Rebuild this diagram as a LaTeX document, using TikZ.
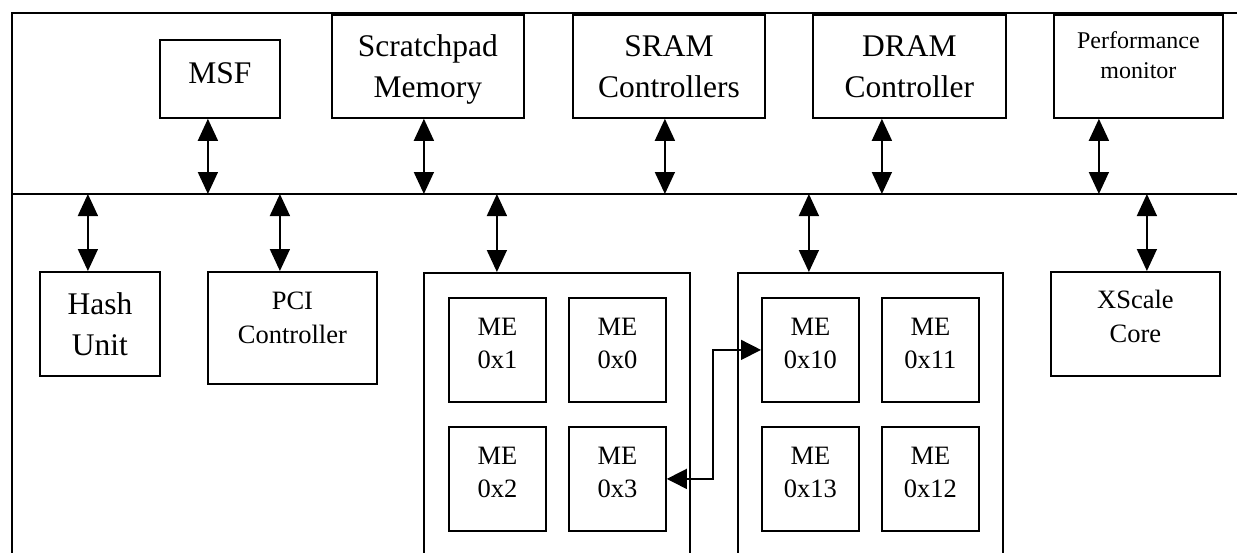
\documentclass[tikz,border=0pt]{standalone}
\usepackage{fontspec}
\setmainfont{Liberation Serif}
\usetikzlibrary{arrows.meta}
\begin{document}
\begin{tikzpicture}[x=1pt,y=-1pt,
  blk/.style={draw, line width=1.8pt, inner sep=0pt, anchor=north west},
  frameline/.style={line width=2.6pt},
  busline/.style={line width=1.8pt},
  biarrow/.style={line width=1.6pt,
    {Triangle[length=22pt,width=20pt]}-{Triangle[length=22pt,width=20pt]}},
  linkarrow/.style={line width=1.5pt,
    {Triangle[length=20pt,width=20pt]}-{Triangle[length=20pt,width=20pt]}},
  bigtxt/.style={font=\fontsize{31.5}{41}\selectfont, align=center, anchor=base, inner sep=0pt},
  midtxt/.style={font=\fontsize{26.5}{34}\selectfont, align=center, anchor=base, inner sep=0pt},
  metxt/.style={font=\fontsize{26.5}{33}\selectfont, align=center, anchor=base, inner sep=0pt},
  smalltxt/.style={font=\fontsize{24}{30}\selectfont, align=center, anchor=base, inner sep=0pt},
  mebox/.style={blk, minimum width=97, minimum height=104}
]
\useasboundingbox (0,0) rectangle (1237,552);
\clip (0,0) rectangle (1237,552);

% outer frame and internal bus
\draw[frameline] (12,560) -- (12,13) -- (1240,13);
\coordinate (busL) at (12,194);
\coordinate (busR) at (1240,194);
\draw[busline] (busL) -- (busR);

% units above the bus
\node[blk, minimum width=120, minimum height=78]  (msf)     at (159,39) {};
\node[blk, minimum width=192, minimum height=103] (scratch) at (331,14) {};
\node[blk, minimum width=192, minimum height=103] (sram)    at (572,14) {};
\node[blk, minimum width=193, minimum height=103] (dram)    at (812,14) {};
\node[blk, minimum width=169, minimum height=103] (perf)    at (1053,14) {};

% labels are placed by the baseline of their last line
\node[bigtxt]   (msfT)     at ([yshift=-44pt]msf.north)     {MSF};
\node[bigtxt]   (scratchT) at ([yshift=-83pt]scratch.north) {Scratchpad\\Memory};
\node[bigtxt]   (sramT)    at ([yshift=-83pt]sram.north)    {SRAM\\Controllers};
\node[bigtxt]   (dramT)    at ([yshift=-83pt]dram.north)    {DRAM\\Controller};
\node[smalltxt] (perfT)    at ([yshift=-64pt]perf.north)    {Performance\\monitor};

% units below the bus
\node[blk, minimum width=120, minimum height=104] (hash)   at (39,271) {};
\node[blk, minimum width=169, minimum height=112] (pci)    at (207,271) {};
\node[blk, minimum width=266, minimum height=330] (grpA)   at (423,272) {};
\node[blk, minimum width=265, minimum height=330] (grpB)   at (737,272) {};
\node[blk, minimum width=169, minimum height=104] (xscale) at (1050,271) {};

\node[bigtxt] (hashT)   at ([yshift=-84pt]hash.north)   {Hash\\Unit};
\node[midtxt] (pciT)    at ([yshift=-72pt]pci.north)    {PCI\\Controller};
\node[midtxt] (xscaleT) at ([yshift=-71pt]xscale.north) {XScale\\Core};

% microengine clusters
\node[mebox] (me1)  at (448,297) {};
\node[mebox] (me0)  at (568,297) {};
\node[mebox] (me2)  at (448,426) {};
\node[mebox] (me3)  at (568,426) {};
\node[mebox] (me10) at (761,297) {};
\node[mebox] (me11) at (881,297) {};
\node[mebox] (me13) at (761,426) {};
\node[mebox] (me12) at (881,426) {};

\foreach \m/\lbl in {me1/0x1, me0/0x0, me2/0x2, me3/0x3,
                     me10/0x10, me11/0x11, me13/0x13, me12/0x12}
  \node[metxt] (\m T) at ([yshift=-71pt]\m.north) {ME\\\lbl};

% bus connections
\draw[biarrow] ([xshift=-12pt]msf.south)     -- ([xshift=-12pt]msf.south |- busL);
\draw[biarrow] ([xshift=-4pt]scratch.south)  -- ([xshift=-4pt]scratch.south |- busL);
\draw[biarrow] ([xshift=-4pt]sram.south)     -- ([xshift=-4pt]sram.south |- busL);
\draw[biarrow] ([xshift=-27.5pt]dram.south)  -- ([xshift=-27.5pt]dram.south |- busL);
\draw[biarrow] ([xshift=-39.5pt]perf.south)  -- ([xshift=-39.5pt]perf.south |- busL);

\draw[biarrow] ([xshift=-12pt]hash.north |- busL)   -- ([xshift=-12pt]hash.north);
\draw[biarrow] ([xshift=-12.5pt]pci.north |- busL)  -- ([xshift=-12.5pt]pci.north);
\draw[biarrow] ([xshift=-60pt]grpA.north |- busL)   -- ([xshift=-60pt]grpA.north);
\draw[biarrow] ([xshift=-61.5pt]grpB.north |- busL) -- ([xshift=-61.5pt]grpB.north);
\draw[biarrow] ([xshift=11.5pt]xscale.north |- busL) -- ([xshift=11.5pt]xscale.north);

% link between the two clusters
\draw[linkarrow] (me3.east) -- ++(46,0) |- (me10.west);
\end{tikzpicture}
\end{document}
